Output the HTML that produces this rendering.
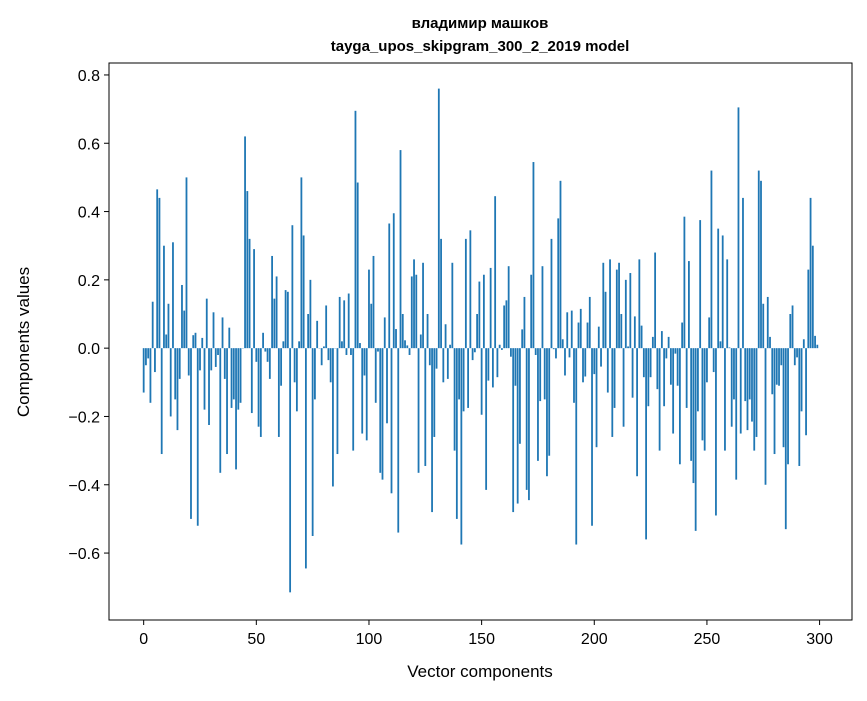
<!DOCTYPE html>
<html><head><meta charset="utf-8"><style>
body{margin:0;background:#fff;font-family:"Liberation Sans","DejaVu Sans",sans-serif}
</style></head><body>
<svg id="chart" width="867" height="696" xmlns="http://www.w3.org/2000/svg">
<text x="480" y="28" text-anchor="middle" font-size="15" font-weight="bold">владимир машков</text>
<text x="480" y="51" text-anchor="middle" font-size="15" font-weight="bold">tayga_upos_skipgram_300_2_2019 model</text>
<g id="bars"></g>
<g id="axes"></g>
<text x="480" y="677" text-anchor="middle" font-size="17">Vector components</text>
<text x="29" y="342" text-anchor="middle" font-size="17" transform="rotate(-90 29 342)">Components values</text>
</svg>
<script>
const values = [
-0.13,-0.05,-0.03,-0.16,0.136,-0.07,0.465,0.44,-0.31,0.3,
0.04,0.13,-0.2,0.31,-0.15,-0.24,-0.09,0.185,0.11,0.5,
-0.08,-0.5,0.038,0.045,-0.52,-0.065,0.03,-0.18,0.145,-0.225,
-0.065,0.105,-0.055,-0.02,-0.365,0.09,-0.09,-0.31,0.06,-0.175,
-0.15,-0.355,-0.18,-0.16,0.0,0.62,0.46,0.32,-0.19,0.29,
-0.04,-0.23,-0.26,0.045,-0.01,-0.04,-0.09,0.27,0.145,0.21,
-0.26,-0.11,0.02,0.17,0.165,-0.715,0.36,-0.1,-0.185,0.02,
0.5,0.33,-0.645,0.1,0.2,-0.55,-0.15,0.08,0.0,-0.05,
0.005,0.125,-0.035,-0.1,-0.405,0.0,-0.31,0.15,0.02,0.14,
-0.02,0.16,-0.02,-0.3,0.695,0.485,0.015,-0.25,-0.08,-0.27,
0.23,0.13,0.27,-0.16,-0.01,-0.365,-0.385,0.09,-0.22,0.365,
-0.425,0.395,0.056,-0.54,0.58,0.1,0.023,0.008,-0.02,0.21,
0.26,0.215,-0.365,0.04,0.25,-0.345,0.1,-0.05,-0.48,-0.26,
-0.06,0.76,0.32,-0.1,0.07,-0.09,0.01,0.25,-0.3,-0.5,
-0.15,-0.575,-0.185,0.32,-0.175,0.345,-0.035,-0.012,0.1,0.195,
-0.195,0.215,-0.415,-0.095,0.235,-0.115,0.445,-0.085,0.01,-0.005,
0.125,0.14,0.24,-0.025,-0.48,-0.11,-0.455,-0.28,0.055,0.15,
-0.415,-0.445,0.215,0.545,-0.02,-0.33,-0.155,0.24,-0.15,-0.375,
-0.315,0.32,-0.003,-0.03,0.38,0.49,0.026,-0.08,0.105,-0.027,
0.11,-0.16,-0.575,0.075,0.115,-0.1,-0.083,0.075,0.15,-0.52,
-0.076,-0.29,0.063,-0.054,0.25,0.165,-0.13,0.26,-0.26,-0.175,
0.23,0.25,0.1,-0.23,0.2,0.005,0.22,-0.145,0.093,-0.375,
0.26,0.066,-0.085,-0.56,-0.17,-0.085,0.033,0.28,-0.12,-0.3,
0.05,-0.17,-0.03,0.033,-0.107,-0.25,-0.016,-0.11,-0.34,0.075,
0.385,-0.175,0.255,-0.33,-0.395,-0.535,-0.185,0.375,-0.27,-0.3,
-0.1,0.09,0.52,-0.07,-0.49,0.35,0.02,0.33,-0.3,0.26,
0.002,-0.23,-0.15,-0.385,0.705,-0.25,0.44,-0.155,-0.24,-0.15,
-0.215,-0.3,-0.26,0.52,0.49,0.13,-0.4,0.15,0.033,-0.135,
-0.31,-0.107,-0.11,-0.05,-0.29,-0.53,-0.34,0.1,0.125,-0.05,
-0.027,-0.345,-0.185,0.026,-0.255,0.23,0.44,0.3,0.036,0.01
];
const yTicks = [-0.6,-0.4,-0.2,0.0,0.2,0.4,0.6,0.8];
const yTickLabels = ["−0.6","−0.4","−0.2","0.0","0.2","0.4","0.6","0.8"];
const xTicks = [0,50,100,150,200,250,300];
const xTickLabels = ["0","50","100","150","200","250","300"];

const L=109,R=852,T=63,B=620;
const n=values.length;
const xMin=-0.4-0.05*(n-0.2), xMax=(n-1)+0.4+0.05*(n-0.2);
const yMin=-0.796, yMax=0.835;
const sx=v=>L+(v-xMin)/(xMax-xMin)*(R-L);
const sy=v=>T+(yMax-v)/(yMax-yMin)*(B-T);
const NS="http://www.w3.org/2000/svg";
const bars=document.getElementById('bars');
const axes=document.getElementById('axes');
function mk(tag,attrs,parent){const e=document.createElementNS(NS,tag);for(const k in attrs)e.setAttribute(k,attrs[k]);parent.appendChild(e);return e;}
values.forEach((v,i)=>{
  const x0=sx(i-0.4),x1=sx(i+0.4);
  const y0=sy(Math.max(v,0)),y1=sy(Math.min(v,0));
  const r=mk('rect',{x:x0,y:y0,width:x1-x0,height:Math.max(y1-y0,0.3),fill:'#1f77b4'},bars);
  
  
});
const frame=mk('rect',{x:L,y:T,width:R-L,height:B-T,fill:'none',stroke:'#000','stroke-width':1},axes);


yTicks.forEach((t,i)=>{
  const y=sy(t);
  const tk=mk('line',{x1:L-5,x2:L,y1:y,y2:y,stroke:'#000'},axes);
  
  
  const tx=mk('text',{x:L-9,y:y+6,'text-anchor':'end','font-size':16},axes);
  tx.textContent=yTickLabels[i];
  
  
});
xTicks.forEach((t,i)=>{
  const x=sx(t);
  const tk=mk('line',{x1:x,x2:x,y1:B,y2:B+5,stroke:'#000'},axes);
  
  
  const tx=mk('text',{x:x,y:B+24,'text-anchor':'middle','font-size':16},axes);
  tx.textContent=xTickLabels[i];
  
  
});
</script>
</body></html>
